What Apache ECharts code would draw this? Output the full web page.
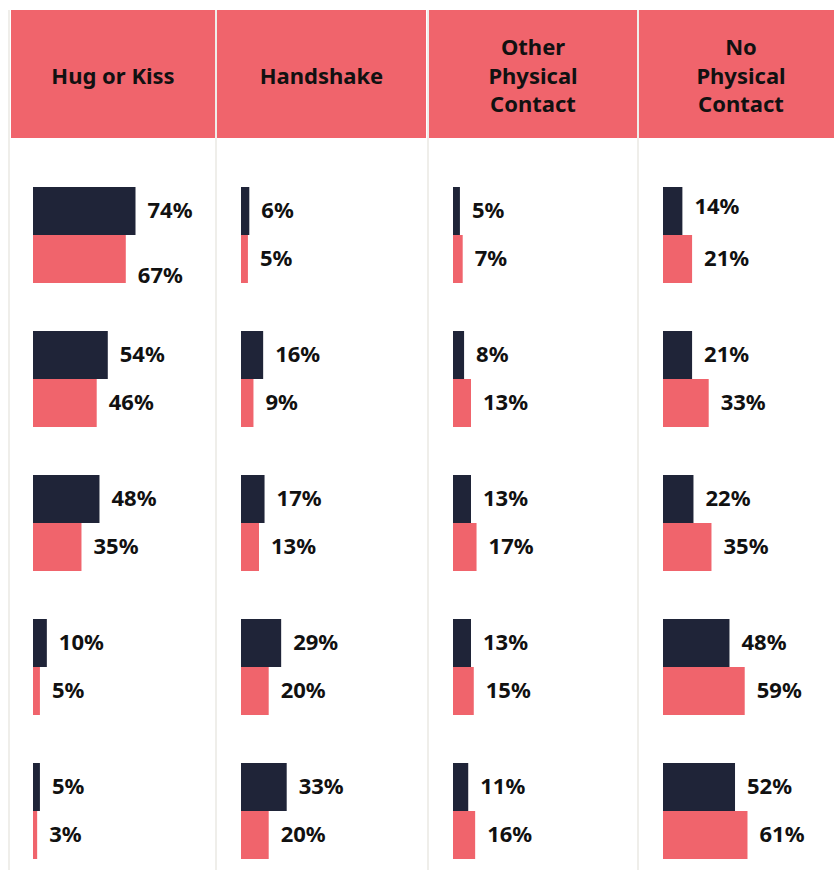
<!DOCTYPE html>
<html>
<head>
<meta charset="utf-8">
<script src="https://cdn.jsdelivr.net/npm/echarts@6/dist/echarts.min.js"></script>
<style>
html,body{margin:0;padding:0;background:#fff;}
#chart{width:834px;height:870px;}
</style>
</head>
<body>
<div id="chart"></div>
<script>
// ---- data ----
const headers = ["Hug or Kiss", "Handshake", "Other\nPhysical\nContact", "No\nPhysical\nContact"];
const rows = ["1", "2", "3", "4", "5"];
const hugDark = [74, 54, 48, 10, 5];
const hugCoral = [67, 46, 35, 5, 3];
const shakeDark = [6, 16, 17, 29, 33];
const shakeCoral = [5, 9, 13, 20, 20];
const otherDark = [5, 8, 13, 13, 11];
const otherCoral = [7, 13, 17, 15, 16];
const noneDark = [14, 21, 22, 48, 52];
const noneCoral = [21, 33, 35, 59, 61];

// ---- layout / style ----
const DARK = '#1f2438';
const CORAL = '#f0646c';
const LINE = '#efeeea';
const FONT = '"Noto Sans", sans-serif';
const colDark = [hugDark, shakeDark, otherDark, noneDark];
const colCoral = [hugCoral, shakeCoral, otherCoral, noneCoral];
const headerRects = [[11, 204], [217, 209], [429, 208], [639, 205]];
const gridLeft = [33, 241, 453, 663];
const textCenter = [113, 321.5, 533, 741];
const vLines = [8, 215, 427, 637];

const chart = echarts.init(document.getElementById('chart'), null, {renderer: 'svg'});

const grids = [], xAxes = [], yAxes = [], series = [];
gridLeft.forEach((l, i) => {
  grids.push({left: l, top: 235, width: 138.5, height: 576});
  xAxes.push({type: 'value', min: 0, max: 100, gridIndex: i, show: false});
  yAxes.push({type: 'category', data: rows, inverse: true, boundaryGap: false, gridIndex: i, show: false});
  const lbl = {show: true, position: 'right', distance: 12, offset: [0, -2], formatter: '{c}%',
    fontSize: 22, fontWeight: 'bold', color: '#111', fontFamily: FONT};
  const darkData = colDark[i].map((v, j) => {
    if (i === 3 && j === 0) return {value: v, label: {offset: [0, -6]}};
    return v;
  });
  series.push({
    type: 'bar', xAxisIndex: i, yAxisIndex: i, data: darkData,
    barWidth: 48, barGap: '0%', itemStyle: {color: DARK}, label: lbl,
    silent: true, animation: false
  });
  const coralData = colCoral[i].map((v, j) => {
    if (i === 0 && j === 0) return {value: v, label: {offset: [0, 15]}};
    return v;
  });
  series.push({
    type: 'bar', xAxisIndex: i, yAxisIndex: i, data: coralData,
    barWidth: 48, barGap: '0%', itemStyle: {color: CORAL}, label: lbl,
    silent: true, animation: false
  });
});

const graphic = [];
vLines.forEach(x => graphic.push({type: 'rect', shape: {x: x, y: 10, width: 2, height: 870},
  style: {fill: LINE}, silent: true}));
headerRects.forEach(([x, w], i) => {
  graphic.push({type: 'rect', shape: {x: x, y: 10, width: w, height: 128},
    style: {fill: CORAL}, silent: true});
  graphic.push({type: 'text', x: textCenter[i], y: 74.5,
    style: {text: headers[i], fill: '#111', font: 'bold 22px ' + FONT,
      textAlign: 'center', textVerticalAlign: 'middle', lineHeight: 28.5}, silent: true});
});

chart.setOption({
  animation: false,
  grid: grids, xAxis: xAxes, yAxis: yAxes, series: series,
  graphic: graphic
});
</script>
</body>
</html>
